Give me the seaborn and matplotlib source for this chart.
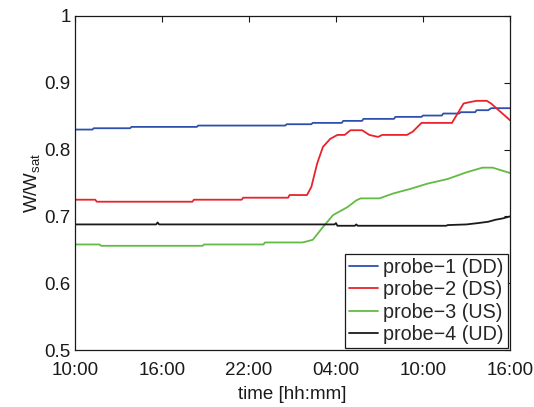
import matplotlib
matplotlib.use("Agg")
import matplotlib.pyplot as plt
import numpy as np
import pandas as pd
import seaborn as sns

# Elapsed time in hours since 10:00 on day one, with the saturation ratio W/Wsat
hours_p1 = [0, 1.2, 1.3, 3.8, 3.9, 8.4, 8.5, 14.5, 14.6, 16.3, 16.4, 18.4, 18.5,
            19.8, 19.9, 22.0, 22.1, 23.9, 24.0, 25.3, 25.4, 26.5, 26.6, 27.6,
            27.7, 28.5, 28.7, 30.0]
ratio_p1 = [0.830, 0.830, 0.832, 0.832, 0.834, 0.834, 0.836, 0.836, 0.838,
            0.838, 0.840, 0.840, 0.843, 0.843, 0.846, 0.846, 0.849, 0.849,
            0.851, 0.851, 0.854, 0.854, 0.856, 0.856, 0.859, 0.859, 0.862,
            0.862]

hours_p2 = [0, 1.4, 1.5, 8.1, 8.2, 11.5, 11.6, 14.7, 14.8, 16.0, 16.3, 16.7,
            17.1, 17.6, 18.1, 18.6, 19.0, 19.8, 20.3, 20.9, 21.2, 22.9, 23.3,
            23.9, 26.0, 26.8, 27.2, 27.7, 28.4, 28.7, 30.0]
ratio_p2 = [0.725, 0.725, 0.722, 0.722, 0.725, 0.725, 0.728, 0.728, 0.732,
            0.732, 0.744, 0.779, 0.804, 0.816, 0.822, 0.822, 0.829, 0.829,
            0.822, 0.819, 0.822, 0.822, 0.827, 0.840, 0.840, 0.869, 0.871,
            0.873, 0.873, 0.869, 0.844]

hours_p3 = [0, 1.7, 1.8, 8.8, 8.9, 13.0, 13.1, 15.7, 16.4, 17.1, 17.8, 18.8,
            19.4, 19.7, 21.0, 21.9, 22.4, 23.1, 24.3, 25.7, 27.0, 28.1, 28.8,
            30.0]
ratio_p3 = [0.658, 0.658, 0.656, 0.656, 0.658, 0.658, 0.661, 0.661, 0.665,
            0.684, 0.702, 0.714, 0.724, 0.727, 0.727, 0.734, 0.737, 0.741,
            0.749, 0.756, 0.766, 0.773, 0.773, 0.765]

hours_p4 = [0, 5.6, 5.7, 5.8, 17.9, 18.0, 18.1, 19.3, 19.4, 19.5, 25.6, 25.7,
            27.0, 27.8, 28.5, 29.0, 29.5, 30.0]
ratio_p4 = [0.688, 0.688, 0.691, 0.688, 0.688, 0.690, 0.686, 0.686, 0.688,
            0.686, 0.686, 0.687, 0.688, 0.690, 0.692, 0.695, 0.697, 0.700]

probe_names = ["probe\u22121 (DD)", "probe\u22122 (DS)",
               "probe\u22123 (US)", "probe\u22124 (UD)"]
probe_colors = ["#2e4fad", "#e8232b", "#62bb45", "#1a1a1a"]

tick_hours = [0, 6, 12, 18, 24, 30]
tick_clock = ["10:00", "16:00", "22:00", "04:00", "10:00", "16:00"]
ytick_vals = [0.5, 0.6, 0.7, 0.8, 0.9, 1.0]
ytick_text = ["0.5", "0.6", "0.7", "0.8", "0.9", "1"]

frames = []
for name, h, r in zip(probe_names,
                      [hours_p1, hours_p2, hours_p3, hours_p4],
                      [ratio_p1, ratio_p2, ratio_p3, ratio_p4]):
    frames.append(pd.DataFrame({"hours": h, "ratio": r, "probe": name}))
df = pd.concat(frames, ignore_index=True)

sns.set_style("white")
plt.rcParams["font.family"] = ["Liberation Sans", "DejaVu Sans"]
plt.rcParams["mathtext.fontset"] = "custom"
plt.rcParams["mathtext.rm"] = "Liberation Sans"
plt.rcParams["mathtext.it"] = "Liberation Sans"

fig = plt.figure(figsize=(5.34, 4.07), dpi=100)
ax = fig.add_axes([0.1404, 0.140, 0.8146, 0.8207])

sns.lineplot(data=df, x="hours", y="ratio", hue="probe",
             palette=dict(zip(probe_names, probe_colors)),
             estimator=None, sort=False, linewidth=1.3, ax=ax)

ax.set_xlim(0, 30)
ax.set_ylim(0.5, 1.0)
ax.set_xticks(tick_hours)
ax.set_xticklabels(tick_clock)
ax.set_yticks(ytick_vals)
ax.set_yticklabels(ytick_text)
ax.tick_params(direction="in", length=4, width=0.8, colors="#1a1a1a",
               labelsize=13.5, top=True, right=True, pad=3)
ax.tick_params(axis="x", pad=8.5)
for s in ax.spines.values():
    s.set_visible(True)
    s.set_color("#1a1a1a")
    s.set_linewidth(0.9)

ax.set_xlabel("time [hh:mm]", fontsize=13.5, labelpad=5, color="#1a1a1a")
ax.set_ylabel(r"W/W$_{\mathrm{sat}}$", fontsize=13.5, labelpad=2,
              color="#1a1a1a")

leg = ax.legend(loc="lower right", fontsize=14.2, frameon=True, fancybox=False,
                edgecolor="#1a1a1a", framealpha=1, borderaxespad=0.12,
                handlelength=1.5, handletextpad=0.25, labelspacing=0.16,
                borderpad=0.2, title=None)
leg.get_frame().set_linewidth(0.9)

fig.savefig("out.png", dpi=100, facecolor="white")
